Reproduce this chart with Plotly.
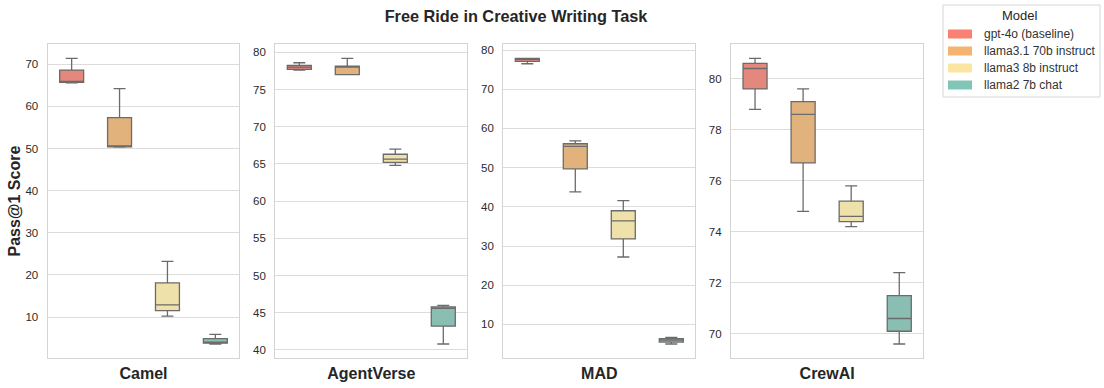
import plotly.graph_objects as go

# ---------------- data ----------------
frameworks = ["Camel", "AgentVerse", "MAD", "CrewAI"]
models = ["gpt-4o (baseline)", "llama3.1 70b instruct", "llama3 8b instruct", "llama2 7b chat"]

# rows = frameworks, cols = models
lowerfence = [[65.6, 50.3, 10.2, 3.6],
              [77.6, 77.0, 64.8, 40.8],
              [76.5, 43.8, 27.2, 5.0],
              [78.8, 74.8, 74.2, 69.6]]
q1 = [[65.7, 50.4, 11.5, 3.8],
      [77.7, 77.0, 65.2, 43.2],
      [77.1, 49.7, 31.8, 5.5],
      [79.6, 76.7, 74.4, 70.1]]
median = [[65.8, 50.5, 12.9, 4.0],
          [78.0, 78.0, 65.65, 45.6],
          [77.6, 55.4, 36.4, 6.0],
          [80.4, 78.6, 74.6, 70.6]]
q3 = [[68.6, 57.3, 18.1, 4.9],
      [78.25, 78.15, 66.3, 45.8],
      [77.9, 56.1, 39.0, 6.4],
      [80.6, 79.1, 75.2, 71.5]]
upperfence = [[71.4, 64.2, 23.2, 5.9],
              [78.6, 79.2, 67.0, 46.0],
              [77.9, 56.85, 41.6, 6.7],
              [80.8, 79.6, 75.8, 72.4]]
y_dticks = [10, 5, 10, 2]

# ---------------- styles ----------------
box_colors = ["#E4877D", "#E2B27D", "#EEE1AA", "#8ABEB2"]
legend_colors = ["#FA8072", "#F2B46E", "#FAE6A2", "#80C6B6"]
edge = "#6b6b6b"
FONT = "Liberation Sans, Arial, sans-serif"
W, H = 1104, 388

x_px = [(47.7, 239.3), (275.3, 467.3), (503.3, 695.3), (731.0, 923.3)]
y_top, y_bot = 44.0, 358.3

fig = go.Figure()

for i, fw in enumerate(frameworks):
    ax = "" if i == 0 else str(i + 1)
    for j, m in enumerate(models):
        fig.add_trace(go.Box(
            x=[fw], q1=[q1[i][j]], median=[median[i][j]], q3=[q3[i][j]],
            lowerfence=[lowerfence[i][j]], upperfence=[upperfence[i][j]],
            name=m, legendgroup=m, showlegend=False, offsetgroup=str(j),
            fillcolor=box_colors[j], line=dict(color=edge, width=1.3),
            whiskerwidth=0.5, boxpoints=False, hoverinfo="skip",
            xaxis="x" + ax, yaxis="y" + ax,
        ))
    allv = lowerfence[i] + upperfence[i]
    lo, hi = min(allv), max(allv)
    pad = (hi - lo) * 0.05
    xd = [x_px[i][0] / W, x_px[i][1] / W]
    yd = [1 - y_bot / H, 1 - y_top / H]
    fig.update_layout(**{
        "xaxis" + ax: dict(domain=xd, anchor="y" + ax, type="category",
                           range=[-0.5, 0.5], showgrid=False, showline=True, mirror=True,
                           linecolor="#d4d4d4", linewidth=1.3, ticks="",
                           tickfont=dict(family=FONT, size=16, color="#262626", weight="bold"),
                           ticklabelstandoff=0, automargin=False, fixedrange=True),
        "yaxis" + ax: dict(domain=yd, anchor="x" + ax, range=[lo - pad, hi + pad],
                           dtick=y_dticks[i], showgrid=True, gridcolor="#dcdcdc", gridwidth=1.1,
                           showline=True, mirror=True, linecolor="#d4d4d4", linewidth=1.3,
                           zeroline=False, ticks="",
                           tickfont=dict(family=FONT, size=11.5, color="#2b2b2b"),
                           ticklabelstandoff=6, automargin=False, fixedrange=True),
    })

annotations = [
    dict(text="Pass@1 Score", x=13.5 / W, y=1 - 201 / H, xref="paper", yref="paper",
         textangle=-90, showarrow=False, xanchor="center", yanchor="middle",
         font=dict(family=FONT, size=16, color="#262626", weight="bold")),
]
shapes = []

# legend (drawn manually to match the rectangular patches)
lx0, lx1, ly0, ly1 = 943, 1100, 5, 97
shapes.append(dict(type="rect", xref="paper", yref="paper",
                   x0=lx0 / W, x1=lx1 / W, y0=1 - ly1 / H, y1=1 - ly0 / H,
                   line=dict(color="#d6d6d6", width=1), fillcolor="white", layer="above"))
annotations.append(dict(text="Model", x=1020 / W, y=1 - 16 / H, xref="paper", yref="paper",
                        showarrow=False, xanchor="center", yanchor="middle",
                        font=dict(family=FONT, size=13, color="#262626")))
for j, m in enumerate(models):
    cy = 34 + 17 * j
    shapes.append(dict(type="rect", xref="paper", yref="paper",
                       x0=948 / W, x1=972 / W, y0=1 - (cy + 4.5) / H, y1=1 - (cy - 4.5) / H,
                       line=dict(width=0), fillcolor=legend_colors[j], layer="above"))
    annotations.append(dict(text=m, x=982 / W, y=1 - cy / H, xref="paper", yref="paper",
                            showarrow=False, xanchor="left", yanchor="middle",
                            font=dict(family=FONT, size=12, color="#333333")))

fig.update_layout(
    width=W, height=H,
    margin=dict(l=0, r=0, t=0, b=0),
    paper_bgcolor="white", plot_bgcolor="white",
    boxmode="group", boxgap=0, boxgroupgap=0.5,
    showlegend=False,
    title=dict(text="<b>Free Ride in Creative Writing Task</b>", x=516 / W, xanchor="center",
               y=1 - 16 / H, yanchor="middle", xref="paper", yref="container",
               font=dict(family=FONT, size=16.3, color="#262626")),
    annotations=annotations, shapes=shapes,
)

fig.write_html("out.html", config={"displayModeBar": False},
               post_script="document.body.style.margin='0';")
